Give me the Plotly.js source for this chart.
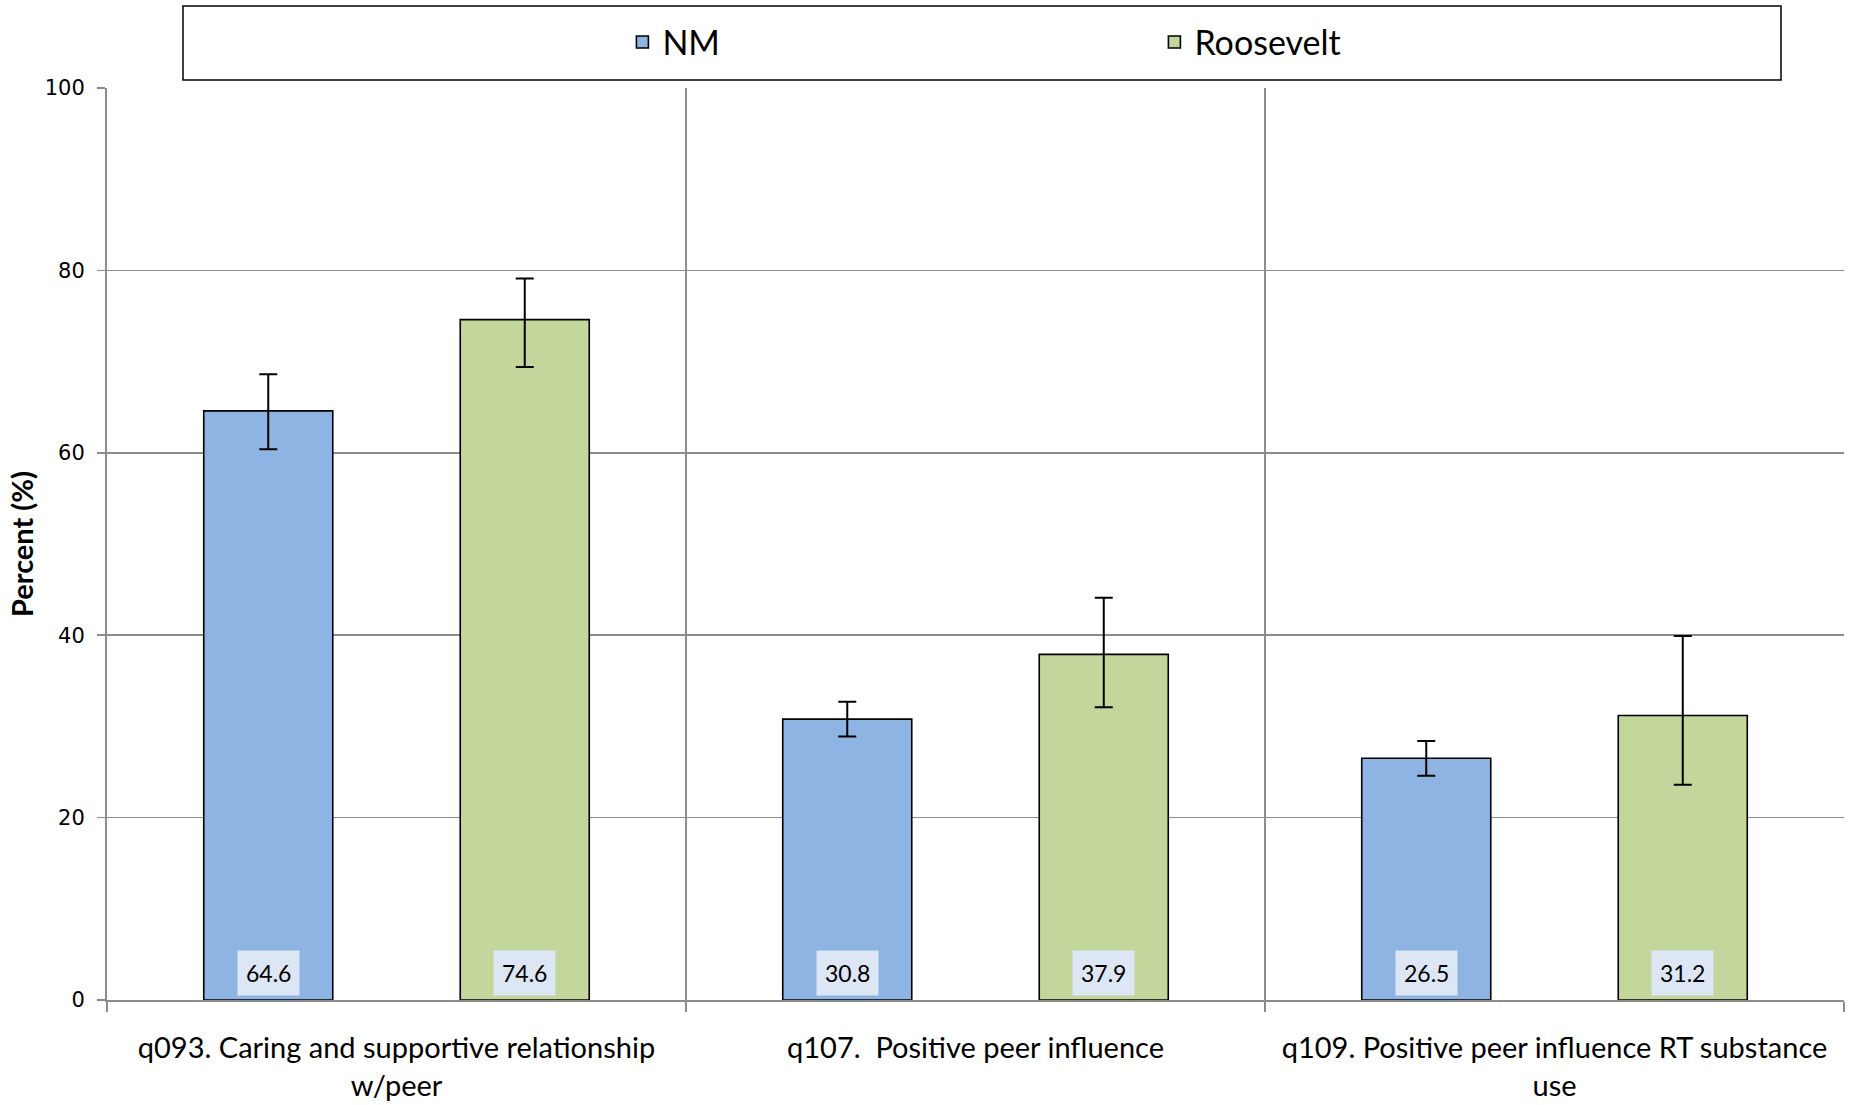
<!DOCTYPE html>
<html>
<head>
<meta charset="utf-8">
<script src="https://cdn.plot.ly/plotly-3.0.1.min.js"></script>
<style>
html,body{margin:0;padding:0;background:#fff;}
#chart{width:1851px;height:1105px;}
</style>
</head>
<body>
<div id="chart"></div>
<script>
// ---- data ----
const categories = [
  "q093. Caring and supportive relationship<br>w/peer",
  "q107.  Positive peer influence",
  "q109. Positive peer influence RT substance<br>use"
];
const seriesNames = ["NM", "Roosevelt"];
const nmValues = [64.6, 30.8, 26.5];
const nmErrPlus = [4.0, 1.9, 1.9];
const nmErrMinus = [4.2, 1.9, 1.9];
const rvValues = [74.6, 37.9, 31.2];
const rvErrPlus = [4.5, 6.2, 8.7];
const rvErrMinus = [5.2, 5.8, 7.6];
const yTicks = [0, 20, 40, 60, 80, 100];

// ---- layout constants ----
const W = 1851, H = 1105;
const M = {l: 107, r: 7, t: 88, b: 105};
const bargap = 0.114, bargroupgap = 0.497;
const plotW = W - M.l - M.r;
const catW = plotW / categories.length;
const slot = (1 - bargap) / 2 * catW;

const colors = ["#8EB4E3", "#C3D69B"];
const labelFont = "Lato, 'Open Sans', sans-serif";

function barTrace(name, vals, ep, em, color) {
  return {
    type: "bar", name: name, x: categories, y: vals,
    marker: {color: color, line: {color: "#000", width: 1.6}},
    error_y: {type: "data", symmetric: false, array: ep, arrayminus: em,
              color: "#000", thickness: 2, width: 9},
    hoverinfo: "none"
  };
}

const data = [
  barTrace(seriesNames[0], nmValues, nmErrPlus, nmErrMinus, colors[0]),
  barTrace(seriesNames[1], rvValues, rvErrPlus, rvErrMinus, colors[1])
];

const annotations = [];
[nmValues, rvValues].forEach((vals, si) => {
  const shift = (si === 0 ? -1 : 1) * slot / 2;
  vals.forEach((v, ci) => {
    annotations.push({
      x: categories[ci], y: 0, xref: "x", yref: "y",
      xanchor: "center", yanchor: "bottom", xshift: shift, yshift: 4,
      text: v.toFixed(1), showarrow: false,
      font: {family: labelFont, size: 23, color: "#000"},
      bgcolor: "#DCE6F4", borderpad: 8
    });
  });
});

const layout = {
  width: W, height: H,
  margin: M,
  paper_bgcolor: "#fff", plot_bgcolor: "#fff",
  barmode: "group", bargap: bargap, bargroupgap: bargroupgap,
  showlegend: true,
  legend: {
    orientation: "h", x: 0.603, xanchor: "center", y: 1.05, yanchor: "middle",
    font: {family: labelFont, size: 34, color: "#000"},
    entrywidth: 487, itemclick: false, itemdoubleclick: false,
    bgcolor: "rgba(0,0,0,0)", borderwidth: 0
  },
  xaxis: {
    type: "category", tickson: "boundaries",
    showgrid: true, gridcolor: "#8C8C8C", gridwidth: 1.5,
    showline: true, linecolor: "#8C8C8C", linewidth: 2,
    ticks: "outside", ticklen: 10, tickcolor: "#8C8C8C", tickwidth: 1.5,
    tickfont: {family: labelFont, size: 29, color: "#000"},
    ticklabelstandoff: 21,
    fixedrange: true
  },
  yaxis: {
    range: [0, 100], tickvals: yTicks, ticktext: yTicks.map(String),
    showgrid: true, gridcolor: "#8C8C8C", gridwidth: 1.5,
    showline: true, linecolor: "#8C8C8C", linewidth: 2,
    ticks: "outside", ticklen: 8, tickcolor: "#8C8C8C", tickwidth: 1.5,
    tickfont: {family: "'DejaVu Sans', Verdana, sans-serif", size: 21, color: "#000"},
    ticklabelstandoff: 8,
    zeroline: false,
    title: {text: "<b>Percent (%)</b>", font: {family: labelFont, size: 29, color: "#000"}, standoff: 3},
    fixedrange: true
  },
  shapes: [{
    type: "rect", xref: "paper", yref: "paper",
    x0: (183 - M.l) / plotW, x1: (1781 - M.l) / plotW,
    y0: 1 + (M.t - 80) / (H - M.t - M.b), y1: 1 + (M.t - 6) / (H - M.t - M.b),
    line: {color: "#000", width: 1.5}, fillcolor: "rgba(0,0,0,0)", layer: "below"
  }],
  annotations: annotations
};

Plotly.newPlot("chart", data, layout, {displayModeBar: false, staticPlot: true});
</script>
</body>
</html>
